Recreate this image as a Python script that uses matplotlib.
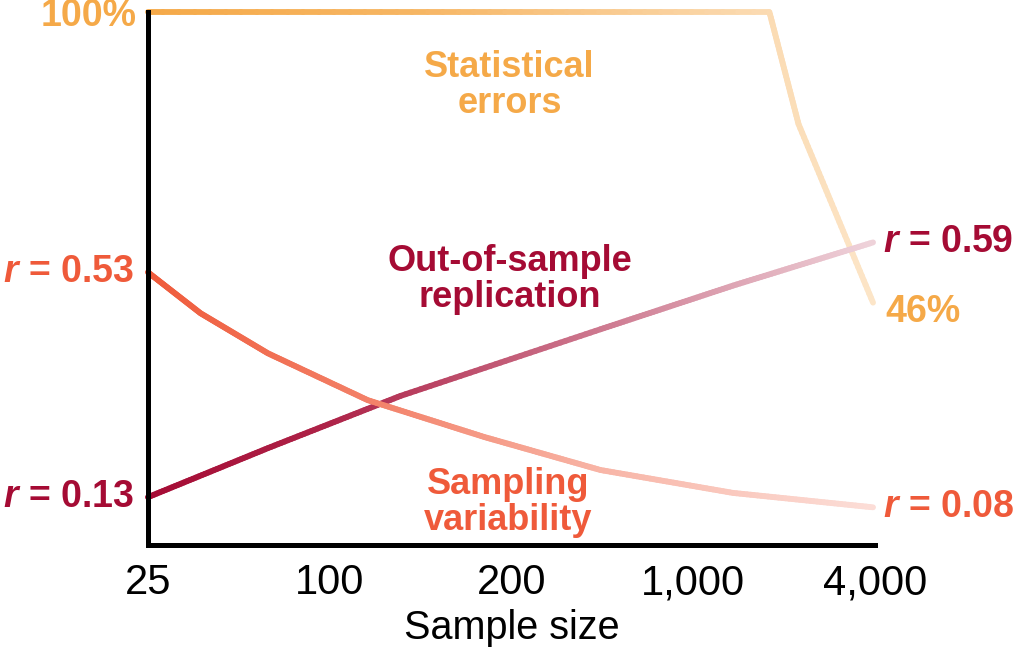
import numpy as np
import matplotlib
matplotlib.use("Agg")
import matplotlib.pyplot as plt
from matplotlib.collections import LineCollection
from matplotlib.colors import to_rgb
from matplotlib import font_manager

# x axis categories (evenly spaced)
size_labels = ["25", "100", "200", "1,000", "4,000"]

# curves; x in category units, y in relative height (0-1)
errors_x = [0.0, 3.42, 3.58, 3.99]
errors_y = [1.0, 1.0, 0.79, 0.455]

sampling_x = [0.0, 0.29, 0.66, 1.21, 1.85, 2.49, 3.22, 3.99]
sampling_y = [0.512, 0.435, 0.360, 0.272, 0.203, 0.141, 0.098, 0.071]

replication_x = [0.0, 0.66, 1.39, 2.49, 3.22, 3.99]
replication_y = [0.090, 0.182, 0.280, 0.405, 0.487, 0.568]

# end labels
errors_start, errors_end = "100%", "46%"
sampling_start, sampling_end = "$r$ = 0.53", "$r$ = 0.08"
replication_start, replication_end = "$r$ = 0.13", "$r$ = 0.59"

c_orange = "#F5A948"
c_red = "#EF5A3A"
c_dark = "#A50B34"

names = [f.name for f in font_manager.fontManager.ttflist]
base_font = "Liberation Sans" if "Liberation Sans" in names else "DejaVu Sans"
tick_font = "Liberation Sans Narrow" if "Liberation Sans Narrow" in names else base_font

plt.rcParams["font.family"] = [base_font, "DejaVu Sans"]
plt.rcParams["mathtext.fontset"] = "custom"
plt.rcParams["mathtext.it"] = base_font + ":italic:bold"
plt.rcParams["mathtext.rm"] = base_font + ":bold"


def fade_line(ax, xs, ys, color, alpha_pts, lw=4.2):
    # split each segment into small pieces and blend colour toward white along x
    px, py = [], []
    for i in range(len(xs) - 1):
        t = np.linspace(0, 1, 40, endpoint=False)
        px.extend(xs[i] + (xs[i + 1] - xs[i]) * t)
        py.extend(ys[i] + (ys[i + 1] - ys[i]) * t)
    px.append(xs[-1])
    py.append(ys[-1])
    px, py = np.array(px), np.array(py)
    pts = np.column_stack([px, py]).reshape(-1, 1, 2)
    segs = np.concatenate([pts[:-1], pts[1:]], axis=1)
    mid = (px[:-1] + px[1:]) / 2
    a = np.interp(mid, alpha_pts[0], alpha_pts[1])
    rgb = np.array(to_rgb(color))
    cols = 1 - a[:, None] * (1 - rgb)
    lc = LineCollection(segs, colors=cols, linewidths=lw, capstyle="round",
                        clip_on=False)
    ax.add_collection(lc)


fig = plt.figure(figsize=(10.2, 6.49), dpi=100)
ax = fig.add_axes([0.145, 0.160, 0.7127, 0.8213])
ax.set_xlim(0, 4)
ax.set_ylim(0, 1)

fade_line(ax, errors_x, errors_y, c_orange, ([0, 1.5, 3.4, 4], [1, 0.85, 0.42, 0.3]))
fade_line(ax, replication_x, replication_y, c_dark, ([0, 1.0, 2.5, 4], [1, 0.9, 0.55, 0.18]))
fade_line(ax, sampling_x, sampling_y, c_red, ([0, 1.3, 2.5, 4], [1, 0.75, 0.45, 0.2]))

for s in ["top", "right"]:
    ax.spines[s].set_visible(False)
for s in ["left", "bottom"]:
    ax.spines[s].set_linewidth(3.6)
    ax.spines[s].set_color("black")

ax.set_yticks([])
ax.set_xticks(range(len(size_labels)), size_labels)
ax.tick_params(axis="x", length=0, pad=13, labelsize=30)
for lab in ax.get_xticklabels():
    lab.set_fontfamily(tick_font)
ax.set_xlabel("Sample size", fontsize=28.5, fontfamily=tick_font, labelpad=4)

lab_kw = dict(fontsize=27, fontweight="bold", textcoords="offset points", va="center")
ax.annotate(errors_start, (errors_x[0], errors_y[0]), xytext=(-8, -3), ha="right", color=c_orange, **lab_kw)
ax.annotate(errors_end, (errors_x[-1], errors_y[-1]), xytext=(9, -7), ha="left", color=c_orange, **lab_kw)
ax.annotate(sampling_start, (sampling_x[0], sampling_y[0]), xytext=(-10, 0), ha="right", color=c_red, **lab_kw)
ax.annotate(sampling_end, (sampling_x[-1], sampling_y[-1]), xytext=(7, 0), ha="left", color=c_red, **lab_kw)
ax.annotate(replication_start, (replication_x[0], replication_y[0]), xytext=(-10, 0), ha="right", color=c_dark, **lab_kw)
ax.annotate(replication_end, (replication_x[-1], replication_y[-1]), xytext=(7, 0), ha="left", color=c_dark, **lab_kw)

mid_kw = dict(fontsize=26, fontweight="bold", ha="center", va="center", linespacing=1.05)
ax.text(1.99, 0.862, "Statistical\nerrors", color=c_orange, **mid_kw)
ax.text(1.99, 0.498, "Out-of-sample\nreplication", color=c_dark, **mid_kw)
ax.text(1.98, 0.080, "Sampling\nvariability", color=c_red, **mid_kw)

fig.savefig("out.png", dpi=100)
